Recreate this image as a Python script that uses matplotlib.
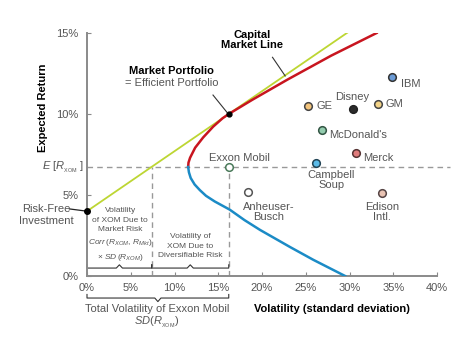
import matplotlib
matplotlib.use('Agg')
import matplotlib.pyplot as plt

plt.rcParams['font.family'] = ['Liberation Sans', 'DejaVu Sans']
plt.rcParams['mathtext.fontset'] = 'custom'
plt.rcParams['mathtext.it'] = 'Liberation Sans:italic'
plt.rcParams['mathtext.rm'] = 'Liberation Sans'

# data (volatility %, expected return %)
rf = 4.0
mkt_vol, mkt_ret = 16.2, 10.0
cml_end_vol = 30.0
exxon_ret = 6.7
mkt_part_vol = 7.4

frontier_up_vol = [33.1, 27.9, 22.9, 18.9, 16.2, 15.5, 14.42, 13.27, 12.36, 11.78, 11.6, 11.56]
frontier_up_ret = [15.0, 13.6, 12.12, 10.88, 10.0, 9.74, 9.22, 8.55, 7.92, 7.3, 7.0, 6.73]
frontier_lo_vol = [11.56, 11.65, 11.85, 12.3, 12.9, 13.6, 14.6, 16.3, 18.0, 19.79, 23.2, 25.86, 29.5]
frontier_lo_ret = [6.73, 6.4, 6.05, 5.65, 5.3, 4.95, 4.6, 4.1, 3.45, 2.84, 1.79, 1.0, 0.0]

stocks = ['IBM', 'GE', 'Disney', 'GM', "McDonald's", 'Merck',
          'Campbell\nSoup', 'Exxon Mobil', 'Anheuser-\nBusch', 'Edison\nIntl.']
stock_vol = [34.9, 25.3, 30.4, 33.2, 26.9, 30.7, 26.2, 16.2, 18.4, 33.7]
stock_ret = [12.3, 10.5, 10.3, 10.6, 9.0, 7.6, 7.0, 6.7, 5.2, 5.1]
stock_fill = ['#6b9bd6', '#f3c47c', '#2b2b2b', '#f3d387', '#93ccae', '#e07c7c',
              '#5cbbe8', 'white', 'white', '#e9c3b3']
stock_edge = ['#333333', '#444444', '#222222', '#444444', '#335544', '#553333',
              '#224455', '#4a7a5a', '#555555', '#554444']
label_x = [35.9, 26.2, 30.3, 34.1, 27.7, 31.6, 27.9, 17.4, 20.8, 33.7]
label_y = [11.85, 10.49, 11.05, 10.6, 8.7, 7.28, 5.9, 7.28, 3.98, 3.92]
label_ha = ['left', 'left', 'center', 'left', 'left', 'left', 'center', 'center', 'center', 'center']

xticks = [0, 5, 10, 15, 20, 25, 30, 35, 40]
yticks = [0, 5, 10, 15]

fig = plt.figure(figsize=(4.7, 3.55), dpi=100)
ax = fig.add_axes([87 / 470, 1 - 276 / 355, 350 / 470, 243 / 355])
ax.set_xlim(0, 40)
ax.set_ylim(0, 15)

grey = '#8a8a8a'
txt = '#555555'
dash = dict(color='#999999', lw=1.0, ls=(0, (4, 3)))

# dashed guides
ax.plot([0, 41.5], [exxon_ret, exxon_ret], clip_on=False, zorder=1, **dash)
ax.plot([mkt_part_vol, mkt_part_vol], [0, exxon_ret], zorder=1, **dash)
ax.plot([mkt_vol, mkt_vol], [0, exxon_ret], zorder=1, **dash)

# capital market line and frontier
slope = (mkt_ret - rf) / mkt_vol
ax.plot([0, cml_end_vol], [rf, rf + slope * cml_end_vol], color='#bdd633', lw=1.3, zorder=2)
ax.plot(frontier_up_vol, frontier_up_ret, color='#c8151f', lw=1.8, zorder=3,
        solid_joinstyle='round')
ax.plot(frontier_lo_vol, frontier_lo_ret, color='#1b8bc6', lw=1.8, zorder=3,
        solid_joinstyle='round')
ax.plot([0], [rf], 'o', color='black', ms=4, clip_on=False, zorder=5)
ax.plot([mkt_vol], [mkt_ret], 'o', color='black', ms=3.5, zorder=5)

for i in range(len(stocks)):
    ax.plot(stock_vol[i], stock_ret[i], 'o', ms=5.5, mfc=stock_fill[i],
            mec=stock_edge[i], mew=1.1, zorder=4)
    ax.text(label_x[i], label_y[i], stocks[i], ha=label_ha[i], va='center',
            fontsize=8, color=txt, linespacing=1.0)

# annotations
ax.text(18.9, 14.57, 'Capital\nMarket Line', ha='center', va='center', fontsize=8,
        fontweight='bold', linespacing=1.0)
ax.plot([21.2, 22.65], [13.5, 12.35], color='#333333', lw=0.8)
ax.text(9.7, 12.65, 'Market Portfolio', ha='center', va='center', fontsize=8, fontweight='bold')
ax.text(9.7, 11.9, '= Efficient Portfolio', ha='center', va='center', fontsize=8, color=txt)
ax.plot([14.4, 16.0], [11.17, 10.1], color='#333333', lw=0.8)

ax.text(-4.6, 4.14, 'Risk-Free', ha='center', va='center', fontsize=8, color=txt, clip_on=False)
ax.text(-4.6, 3.4, 'Investment', ha='center', va='center', fontsize=8, color=txt, clip_on=False)
ax.plot([-2.0, 0], [4.14, rf], color='#222222', lw=0.9, clip_on=False)

ax.text(-0.3, exxon_ret, r'$E\ [R_{_{\mathrm{XOM}}}\ ]$', ha='right', va='center',
        fontsize=8, color=txt)
ax.text(-5.0, 10.4, 'Expected Return', rotation=90, ha='center', va='center',
        fontsize=8, fontweight='bold')

ax.text(3.8, 2.53, 'Volatility\nof XOM Due to\nMarket Risk\n'
        r'$Corr\,(R_{XOM},\,R_{Mkt})$' '\n' r'$\times\ SD\,(R_{XOM})$',
        ha='center', va='center', fontsize=6, color=txt, linespacing=1.55)
ax.text(11.8, 1.85, 'Volatility of\nXOM Due to\nDiversifiable Risk', ha='center', va='center',
        fontsize=6, color=txt, linespacing=1.55)


def brace(x0, x1, y, h, hc):
    # ends rise by h, centre point moves by hc
    xm = (x0 + x1) / 2
    d = 0.35
    ax.plot([x0, x0, xm - d, xm, xm + d, x1, x1],
            [y + h, y, y, y + hc, y, y, y + h],
            color='#333333', lw=0.8, clip_on=False)


brace(0, mkt_part_vol, 0.49, 0.2, 0.2)
brace(mkt_part_vol, mkt_vol, 0.49, 0.2, 0.2)
brace(0, mkt_vol, -1.36, 0.22, -0.22)

ax.text(8.0, -2.04, 'Total Volatility of Exxon Mobil', ha='center', va='center',
        fontsize=8, color=txt, clip_on=False)
ax.text(8.0, -2.86, r'$SD(R_{_{\mathrm{XOM}}})$', ha='center', va='center',
        fontsize=8, color=txt, clip_on=False)
ax.text(28.0, -2.04, 'Volatility (standard deviation)', ha='center', va='center',
        fontsize=8, fontweight='bold', clip_on=False)

ax.set_xticks(xticks)
ax.set_xticklabels([f'{t}%' for t in xticks])
ax.set_yticks(yticks)
ax.set_yticklabels([f'{t}%' for t in yticks])
ax.tick_params(direction='in', length=3, color=grey, labelsize=8, labelcolor=txt)
ax.tick_params(axis='x', pad=5)
ax.tick_params(axis='y', pad=6)
for s in ['top', 'right']:
    ax.spines[s].set_visible(False)
for s in ['left', 'bottom']:
    ax.spines[s].set_color(grey)
    ax.spines[s].set_linewidth(1.4)

fig.savefig('out.png', dpi=100)
